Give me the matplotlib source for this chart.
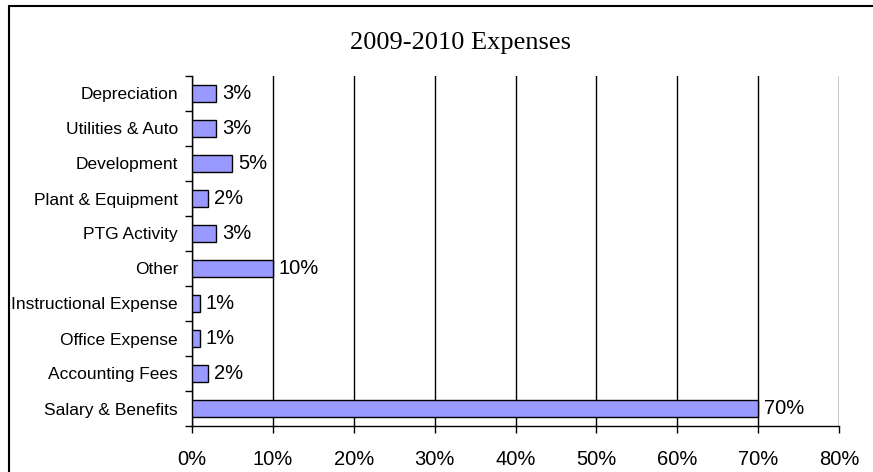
import matplotlib.pyplot as plt
from matplotlib.patches import Rectangle
from matplotlib.ticker import MultipleLocator, FuncFormatter

# data, top to bottom as shown in the chart
categories = ["Depreciation", "Utilities & Auto", "Development", "Plant & Equipment",
              "PTG Activity", "Other", "Instructional Expense", "Office Expense",
              "Accounting Fees", "Salary & Benefits"]
values = [3, 3, 5, 2, 3, 10, 1, 1, 2, 70]
title = "2009-2010 Expenses"

fig = plt.figure(figsize=(8.73, 4.72), dpi=100)
ax = fig.add_axes([192 / 873, 1 - 426 / 472, (839 - 192) / 873, (426 - 76) / 472])

# outer chart border (right/bottom run past the image)
fig.patches.append(Rectangle((9 / 873, -0.1), 1.2, 1 - 6 / 472 + 0.1,
                             transform=fig.transFigure, fill=False,
                             edgecolor="black", linewidth=1.5))

pos = list(range(len(categories)))[::-1]
ax.barh(pos, values, height=0.48, color="#9999FF", edgecolor="black",
        linewidth=1, zorder=3)

for p, v in zip(pos, values):
    ax.annotate(f"{v}%", (v, p), xytext=(4, 0), textcoords="offset points",
                va="center", ha="left", fontsize=14.5, family="Liberation Sans")

ax.set_xlim(0, 80)
ax.set_ylim(-0.5, len(categories) - 0.5)
ax.xaxis.set_major_locator(MultipleLocator(10))
ax.xaxis.set_major_formatter(FuncFormatter(lambda x, _: f"{x:.0f}%"))
ax.grid(axis="x", color="black", linewidth=1, zorder=0)

ax.set_yticks(pos)
ax.set_yticklabels(categories)
ax.set_yticks([i - 0.5 for i in range(len(categories) + 1)], minor=True)
ax.tick_params(axis="y", which="major", length=0, pad=10)
ax.tick_params(axis="y", which="minor", length=5, width=1)
ax.tick_params(axis="x", length=5, width=1, pad=12)

for lbl in ax.get_yticklabels():
    lbl.set_fontsize(12.5)
    lbl.set_family("Liberation Sans")
for lbl in ax.get_xticklabels():
    lbl.set_fontsize(14.5)
    lbl.set_family("Liberation Sans")

for s in ["top", "right"]:
    ax.spines[s].set_visible(False)
for s in ["left", "bottom"]:
    ax.spines[s].set_color("black")
    ax.spines[s].set_linewidth(1)

fig.text(461 / 873, 1 - 43 / 472, title, ha="center", va="center",
         fontsize=19, family="Liberation Serif")

fig.savefig("out.png", dpi=100)
